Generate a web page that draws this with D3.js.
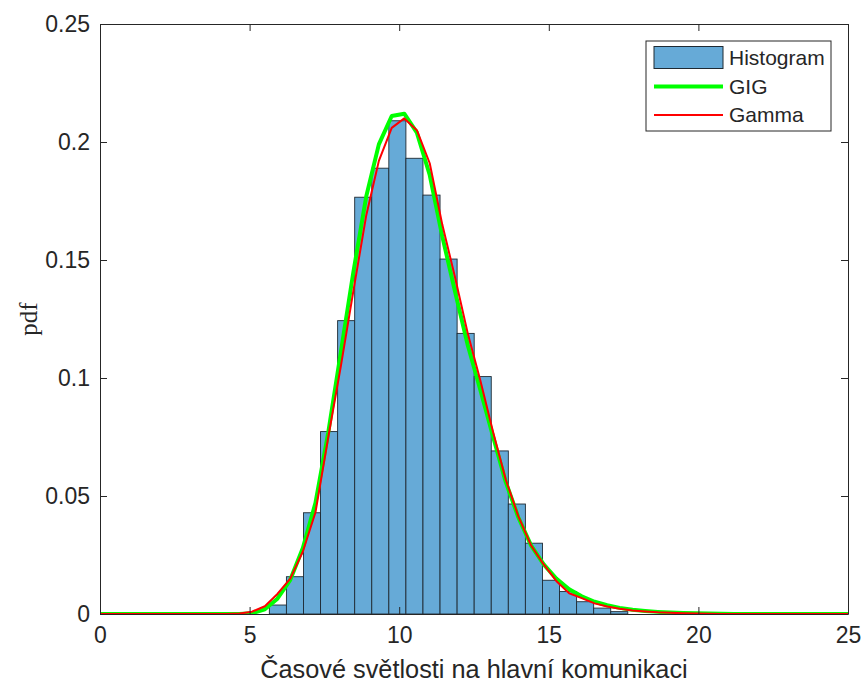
<!DOCTYPE html>
<html>
<head>
<meta charset="utf-8">
<script src="https://cdn.jsdelivr.net/npm/d3@7"></script>
<style>
  html, body { margin: 0; padding: 0; background: #fff; }
  svg { display: block; }
</style>
</head>
<body>
<svg id="chart" width="864" height="683"></svg>
<script>
// Histogram bins (left edge of first bin and common bin width) and normalised heights
const binStart = 5.66;
const binWidth = 0.5705;
const histValues = [0.0038, 0.0158, 0.0429, 0.0773, 0.1243, 0.1766, 0.1889, 0.2090,
  0.1931, 0.1775, 0.1504, 0.1189, 0.1006, 0.0691, 0.0466, 0.0300, 0.0143, 0.0095,
  0.0052, 0.0025, 0.0010];

// Fitted densities evaluated on a common grid
const curveX = [0, 4.24, 4.66, 5.08, 5.51, 5.93, 6.36, 6.78, 7.20, 7.63, 8.05, 8.47,
  8.90, 9.32, 9.75, 10.17, 10.59, 11.02, 11.44, 11.86, 12.29, 12.71, 13.14, 13.56,
  13.98, 14.41, 14.83, 15.25, 15.68, 16.10, 16.53, 16.95, 17.37, 17.80, 18.22, 18.64,
  19.07, 19.49, 19.92, 20.34, 20.76, 21.19, 25];
const gigY = [0, 0, 0.0000, 0.0003, 0.0020, 0.0065, 0.0145, 0.0280, 0.0470, 0.0770,
  0.1110, 0.1450, 0.1770, 0.1990, 0.2110, 0.2120, 0.2040, 0.1860, 0.1600, 0.1370,
  0.1140, 0.0950, 0.0750, 0.0560, 0.0410, 0.0290, 0.0210, 0.0150, 0.0105, 0.0075,
  0.0052, 0.0037, 0.0026, 0.0018, 0.0013, 0.0009, 0.0006, 0.0004, 0.0003, 0.0002,
  0.0001, 0, 0];
const gammaY = [0, 0, 0.0002, 0.0010, 0.0033, 0.0085, 0.0150, 0.0265, 0.0430, 0.0750,
  0.1050, 0.1370, 0.1690, 0.1920, 0.2060, 0.2100, 0.2050, 0.1910, 0.1650, 0.1430,
  0.1190, 0.0990, 0.0770, 0.0570, 0.0415, 0.0290, 0.0210, 0.0140, 0.0088, 0.0067,
  0.0045, 0.0032, 0.0022, 0.0015, 0.0011, 0.0007, 0.0005, 0.0003, 0.0002, 0.0001,
  0, 0, 0];

const xTicks = [0, 5, 10, 15, 20, 25];
const yTicks = [0, 0.05, 0.1, 0.15, 0.2, 0.25];
const yTickLabels = ["0", "0.05", "0.1", "0.15", "0.2", "0.25"];
const seriesNames = ["Histogram", "GIG", "Gamma"];
const xLabel = "Časové světlosti na hlavní komunikaci";
const yLabel = "pdf";

const sans = "'Liberation Sans', Arial, Helvetica, sans-serif";
const serif = "'Liberation Serif', 'DejaVu Serif', serif";

const margin = { left: 100, right: 16, top: 24, bottom: 69 };
const W = 864, H = 683;
const pw = W - margin.left - margin.right;
const ph = H - margin.top - margin.bottom;

const svg = d3.select("#chart");
const g = svg.append("g").attr("transform", `translate(${margin.left},${margin.top})`);

const x = d3.scaleLinear().domain([0, 25]).range([0, pw]);
const y = d3.scaleLinear().domain([0, 0.25]).range([ph, 0]);

const clip = svg.append("defs").append("clipPath").attr("id", "plotclip");
clip.append("rect").attr("x", 0).attr("y", 0).attr("width", pw).attr("height", ph);

const plot = g.append("g").attr("clip-path", "url(#plotclip)");

// Histogram bars
const barFill = "#66aad7";
plot.selectAll("rect.bar")
  .data(histValues)
  .enter().append("rect")
  .attr("class", "bar")
  .attr("x", (d, i) => x(binStart + i * binWidth))
  .attr("width", (d, i) => x(binStart + (i + 1) * binWidth) - x(binStart + i * binWidth))
  .attr("y", d => y(d))
  .attr("height", d => y(0) - y(d))
  .attr("fill", barFill)
  .attr("stroke", "#1f2a33")
  .attr("stroke-width", 0.9);

const line = d3.line()
  .x(d => x(d[0]))
  .y(d => y(d[1]));

plot.append("path")
  .datum(curveX.map((v, i) => [v, gigY[i]]))
  .attr("d", line)
  .attr("fill", "none")
  .attr("stroke", "#00ff00")
  .attr("stroke-width", 4)
  .attr("stroke-linejoin", "round");

plot.append("path")
  .datum(curveX.map((v, i) => [v, gammaY[i]]))
  .attr("d", line)
  .attr("fill", "none")
  .attr("stroke", "#ff0000")
  .attr("stroke-width", 2)
  .attr("stroke-linejoin", "round");

// Axes box with inward ticks on all four sides
const axisColor = "#262626";
const tickLen = 7;
const fontSize = 23;

const xAxis = d3.axisBottom(x).tickValues(xTicks).tickSizeInner(-tickLen).tickSizeOuter(0).tickPadding(13);
const xAxisG = g.append("g").attr("transform", `translate(0,${ph})`).call(xAxis);
const yAxis = d3.axisLeft(y).tickValues(yTicks).tickFormat((d, i) => yTickLabels[i])
  .tickSizeInner(-tickLen).tickSizeOuter(0).tickPadding(10);
const yAxisG = g.append("g").call(yAxis);
const xTop = g.append("g").call(d3.axisTop(x).tickValues(xTicks).tickSizeInner(-tickLen).tickSizeOuter(0).tickFormat(""));
const yRight = g.append("g").attr("transform", `translate(${pw},0)`)
  .call(d3.axisRight(y).tickValues(yTicks).tickSizeInner(-tickLen).tickSizeOuter(0).tickFormat(""));

[xAxisG, yAxisG, xTop, yRight].forEach(a => {
  a.attr("font-family", null).attr("font-size", null);
  a.select(".domain").attr("stroke", axisColor).attr("stroke-width", 1);
  a.selectAll(".tick line").attr("stroke", axisColor).attr("stroke-width", 1);
  a.selectAll(".tick text")
    .style("font-family", sans)
    .style("font-size", fontSize + "px")
    .attr("fill", axisColor);
});
xAxisG.selectAll(".tick text").attr("dy", "0.71em");

// Axis labels
g.append("text")
  .attr("x", pw / 2)
  .attr("y", ph + 64)
  .attr("text-anchor", "middle")
  .style("font-family", sans)
  .style("font-size", "25.3px")
  .attr("fill", axisColor)
  .text(xLabel);

svg.append("text")
  .attr("transform", `translate(37,${margin.top + ph / 2}) rotate(-90)`)
  .attr("text-anchor", "middle")
  .style("font-family", serif)
  .style("font-size", "25px")
  .attr("fill", axisColor)
  .text(yLabel);

// Legend
const lg = svg.append("g").attr("transform", "translate(646,41)");
lg.append("rect").attr("width", 185).attr("height", 90)
  .attr("fill", "#fff").attr("stroke", axisColor).attr("stroke-width", 1);
const rowY = [16.5, 45.5, 74];
lg.append("rect").attr("x", 8).attr("y", rowY[0] - 11).attr("width", 69).attr("height", 22)
  .attr("fill", barFill).attr("stroke", "#1f2a33").attr("stroke-width", 1);
lg.append("line").attr("x1", 8).attr("x2", 77).attr("y1", rowY[1]).attr("y2", rowY[1])
  .attr("stroke", "#00ff00").attr("stroke-width", 4);
lg.append("line").attr("x1", 8).attr("x2", 77).attr("y1", rowY[2]).attr("y2", rowY[2])
  .attr("stroke", "#ff0000").attr("stroke-width", 2);
lg.selectAll("text.leg").data(seriesNames).enter().append("text")
  .attr("class", "leg")
  .attr("x", 83)
  .attr("y", (d, i) => rowY[i])
  .attr("dy", "0.35em")
  .style("font-family", sans)
  .style("font-size", "21px")
  .attr("fill", axisColor)
  .text(d => d);
</script>
</body>
</html>
